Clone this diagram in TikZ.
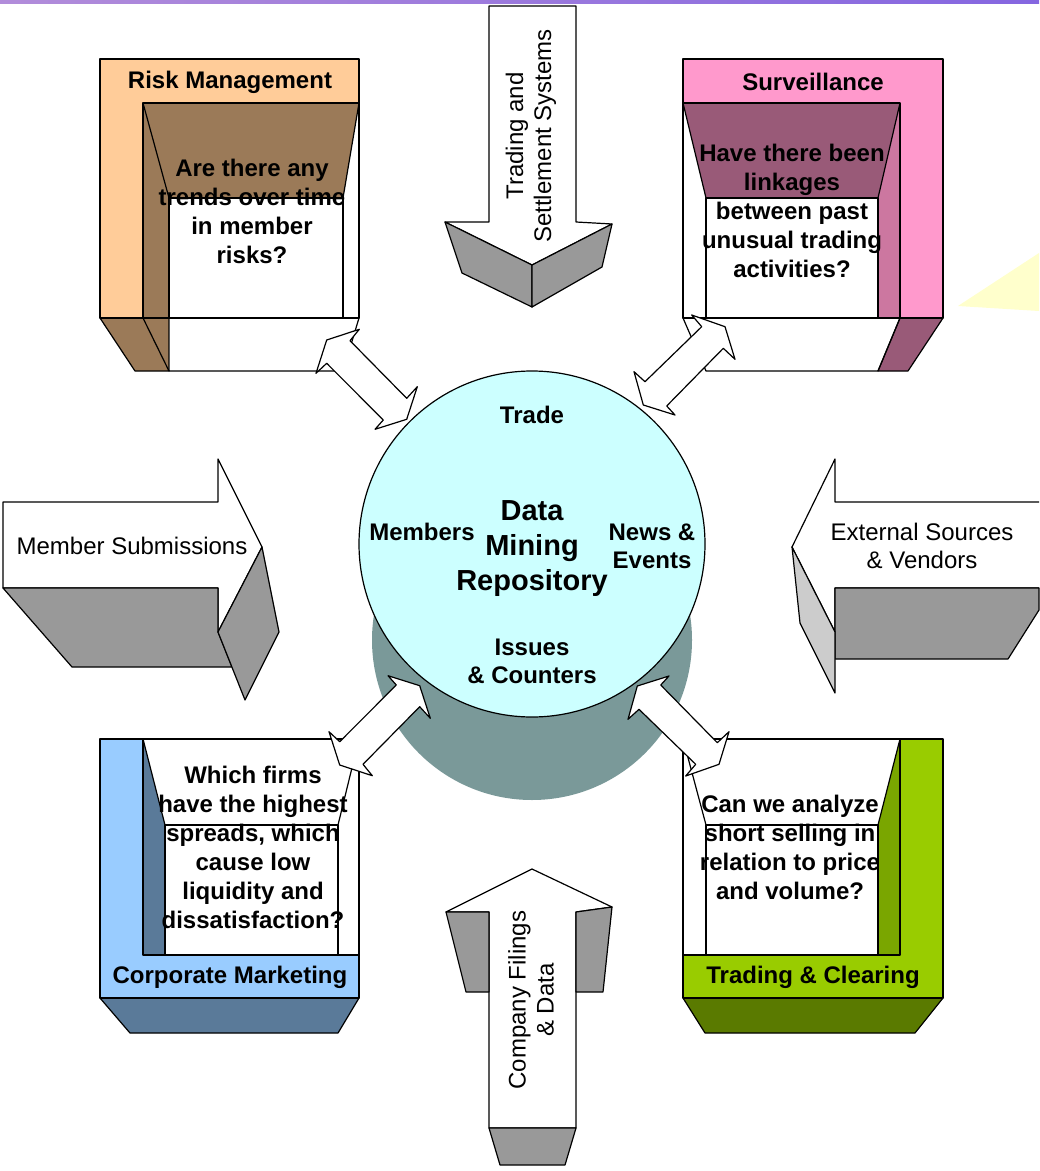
\documentclass[tikz,border=0pt]{standalone}
\usepackage{fontspec}
\setmainfont{Liberation Sans}
\usepackage{xcolor}
\usepackage{tikz}

\definecolor{peach}{RGB}{255,204,153}
\definecolor{riskbrown}{RGB}{155,122,88}
\definecolor{survpink}{RGB}{255,153,204}
\definecolor{survmauve}{RGB}{153,90,120}
\definecolor{survwall}{RGB}{204,119,160}
\definecolor{corpblue}{RGB}{153,204,255}
\definecolor{corpsteel}{RGB}{90,122,153}
\definecolor{tradelime}{RGB}{153,204,0}
\definecolor{tradewall}{RGB}{122,166,0}
\definecolor{tradeolive}{RGB}{90,122,0}
\definecolor{repotop}{RGB}{204,255,255}
\definecolor{repobody}{RGB}{122,153,153}
\definecolor{feedgray}{RGB}{153,153,153}
\definecolor{feedlight}{RGB}{204,204,204}
\definecolor{paleyellow}{RGB}{255,255,204}

\tikzset{
  edge/.style={draw=black,line width=0.6pt,line join=round},
  boxtitle/.style={font=\fontsize{12}{14}\selectfont\bfseries},
  question/.style={font=\fontsize{12}{14.5}\selectfont\bfseries,align=center},
  feedtext/.style={font=\fontsize{12}{14}\selectfont,align=center},
  repotext/.style={font=\fontsize{12}{14}\selectfont\bfseries,align=center},
  twoway/.style={edge,fill=white},
}

\begin{document}
\begin{tikzpicture}[x=0.5pt,y=-0.5pt]
    \useasboundingbox (0,0) rectangle (1039,1171);
    \fill[white] (0,0) rectangle (1039,1171);
    \fill[left color=blue!35!violet!45,right color=blue!60!violet!60] (0,0) rectangle (1039,4);
    \fill[paleyellow] (958,306) -- (1039,253) -- (1039,311) -- cycle;

    % Risk Management
    \fill[peach] (100,59) -- (359,59) -- (359,103) -- (143,103) -- (143,318) -- (100,318) -- cycle;
    \fill[riskbrown] (143,103) -- (359,103) -- (343,198) -- (169,198) -- (169,371) -- (135,371) -- (100,318) -- (143,318) -- cycle;
    \draw[edge,fill=white] (169,198) rectangle (343,318);
    \draw[edge,fill=white] (169,318) -- (359,318) -- (343,371) -- (169,371) -- cycle;
    \draw[edge] (100,59) rectangle (359,318);
    \draw[edge] (359,103) -- (143,103) -- (143,318);
    \draw[edge] (143,103) -- (169,198) -- (343,198) -- (359,103);
    \draw[edge] (100,318) -- (135,371) -- (169,371) -- (143,318);

    % Surveillance
    \fill[survpink] (683,59) -- (943,59) -- (943,318) -- (900,318) -- (900,103) -- (683,103) -- cycle;
    \fill[survmauve] (683,103) -- (900,103) -- (878,198) -- (706,198) -- cycle;
    \fill[survwall] (900,103) -- (900,318) -- (878,371) -- (878,198) -- cycle;
    \fill[survmauve] (900,318) -- (943,318) -- (908,371) -- (878,371) -- cycle;
    \draw[edge,fill=white] (706,198) rectangle (878,318);
    \draw[edge,fill=white] (683,318) -- (900,318) -- (878,371) -- (706,371) -- cycle;
    \draw[edge] (683,59) rectangle (943,318);
    \draw[edge] (683,103) -- (900,103) -- (900,318);
    \draw[edge] (683,103) -- (706,198) -- (878,198) -- (900,103);
    \draw[edge] (943,318) -- (908,371) -- (878,371) -- (900,318);

    % Corporate Marketing
    \fill[corpblue] (100,739) -- (143,739) -- (143,955) -- (359,955) -- (359,998) -- (100,998) -- cycle;
    \fill[corpsteel] (143,739) -- (165,825) -- (165,955) -- (143,955) -- cycle;
    \fill[corpsteel] (100,998) -- (359,998) -- (338,1033) -- (130,1033) -- cycle;
    \draw[edge,fill=white] (165,825) rectangle (338,955);
    \draw[edge] (100,739) rectangle (359,998);
    \draw[edge] (143,739) -- (143,955) -- (359,955);
    \draw[edge] (143,739) -- (165,825) -- (338,825) -- (359,739);
    \draw[edge] (100,998) -- (130,1033) -- (338,1033) -- (359,998);

    % Trading & Clearing
    \fill[tradelime] (900,739) -- (943,739) -- (943,998) -- (683,998) -- (683,955) -- (900,955) -- cycle;
    \fill[tradewall] (900,739) -- (900,955) -- (878,955) -- (878,825) -- cycle;
    \fill[tradeolive] (683,998) -- (943,998) -- (915,1033) -- (705,1033) -- cycle;
    \draw[edge,fill=white] (706,825) rectangle (878,955);
    \draw[edge] (683,739) rectangle (943,998);
    \draw[edge] (900,739) -- (900,955) -- (683,955);
    \draw[edge] (683,739) -- (706,825) -- (878,825) -- (900,739);
    \draw[edge] (683,998) -- (705,1033) -- (915,1033) -- (943,998);

    % repository
    \fill[repobody] (532,640) circle (160);
    \draw[edge,fill=repotop] (532,544) circle (173);

    % feeds
    \draw[edge,fill=white] (489,6) -- (576,6) -- (576,222) -- (612,224) -- (532,265) -- (445,222) -- (489,222) -- cycle;
    \draw[edge,fill=feedgray] (445,222) -- (532,265) -- (532,307) -- (462,273) -- cycle;
    \draw[edge,fill=feedgray] (532,265) -- (612,224) -- (602,267) -- (532,307) -- cycle;

    \draw[edge,fill=white] (532,869) -- (612,907) -- (576,912) -- (576,1128) -- (489,1128) -- (489,912) -- (446,912) -- cycle;
    \draw[edge,fill=feedgray] (446,912) -- (489,912) -- (489,992) -- (466,992) -- cycle;
    \draw[edge,fill=feedgray] (576,912) -- (612,907) -- (603,992) -- (576,992) -- cycle;
    \draw[edge,fill=feedgray] (489,1128) -- (576,1128) -- (565,1165) -- (500,1165) -- cycle;

    \draw[edge,fill=white] (3,502) -- (218,502) -- (218,459) -- (262,547) -- (218,632) -- (218,588) -- (3,588) -- cycle;
    \draw[edge,fill=feedgray] (3,588) -- (218,588) -- (218,632) -- (232,667) -- (72,667) -- cycle;
    \draw[edge,fill=feedgray] (262,547) -- (279,632) -- (245,700) -- (218,632) -- cycle;

    \fill[white] (1039,502) -- (835,502) -- (835,459) -- (792,547) -- (835,632) -- (835,588) -- (1039,588) -- cycle;
    \draw[edge] (1039,502) -- (835,502) -- (835,459) -- (792,547) -- (835,632) -- (835,588) -- (1039,588);
    \draw[edge,fill=feedgray] (835,588) -- (1039,588) -- (1039,610) -- (1008,659) -- (835,659) -- cycle;
    \draw[edge,fill=feedlight] (792,547) -- (835,632) -- (835,693) -- (800,623) -- cycle;

    % two-way links
    \draw[twoway] (359.3,329.3) -- (350,340.7) -- (406.7,398.3) -- (417.3,386.7) -- (406.7,419.3) -- (375,429.3) -- (383.3,420) -- (326.7,363.3) -- (316,373.3) -- (326.7,340) -- cycle;
    \draw[twoway] (691.7,315) -- (701.7,326.7) -- (645,381.7) -- (634,371.7) -- (643.3,405) -- (675,415) -- (666.7,406) -- (723.3,348.3) -- (735,359.3) -- (725,326.7) -- cycle;
    \draw[twoway] (372.3,775.7) -- (363,764.3) -- (419.7,706.7) -- (430.3,718.3) -- (419.7,685.7) -- (388,675.7) -- (396.3,685) -- (339.7,741.7) -- (329,731.7) -- (339.7,765) -- cycle;
    \draw[twoway] (685.7,776) -- (695.7,764.3) -- (639,709.3) -- (628,719.3) -- (637.3,686) -- (669,676) -- (660.7,685) -- (717.3,742.7) -- (729,731.7) -- (719,764.3) -- cycle;

    % texts
    \node[boxtitle] (riskTitle) at (230,82) {Risk Management};
    \node[question] (riskQ) at (252,211) {Are there any\\trends over time\\in member\\risks?};
    \node[boxtitle] (survTitle) at (813,82) {Surveillance};
    \node[question] (survQ) at (792,211) {Have there been\\linkages\\between past\\unusual trading\\activities?};
    \node[boxtitle] (corpTitle) at (230,977) {Corporate Marketing};
    \node[question] (corpQ) at (253,847) {Which firms\\have the highest\\spreads, which\\cause low\\liquidity and\\dissatisfaction?};
    \node[boxtitle] (tradeTitle) at (813,977) {Trading \& Clearing};
    \node[question] (tradeQ) at (790,847) {Can we analyze\\short selling in\\relation to price\\and volume?};

    \node[repotext] (trade) at (532,415) {Trade};
    \node[repotext,font=\fontsize{14.5}{17.5}\selectfont\bfseries] (repo) at (532,549) {Data\\Mining\\Repository};
    \node[repotext] (members) at (422,532) {Members};
    \node[repotext] (news) at (652,546) {News \&\\Events};
    \node[repotext] (issues) at (532,661) {Issues\\\& Counters};

    \node[feedtext,rotate=90] (tradingFeed) at (531,136) {Trading and\\Settlement Systems};
    \node[feedtext,rotate=90] (filingsFeed) at (531,1000) {Company Filings\\\& Data};
    \node[feedtext] (memberFeed) at (132,546) {Member Submissions};
    \node[feedtext] (externalFeed) at (922,546) {External Sources\\\& Vendors};
\end{tikzpicture}
\end{document}
